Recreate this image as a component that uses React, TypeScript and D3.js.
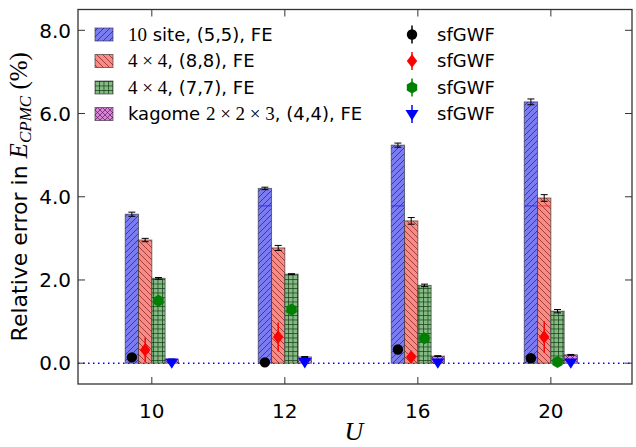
import React from "react";
import * as d3 from "d3";

const categories = ["10", "12", "16", "20"];
const seriesNames = ["10 site, (5,5), FE", "4x4, (8,8), FE", "4x4, (7,7), FE", "kagome 2x2x3, (4,4), FE"];
const barBlue = [3.58, 4.2, 5.24, 6.28];
const barBlueErr = [0.05, 0.03, 0.05, 0.07];
const barRed = [2.96, 2.77, 3.42, 3.97];
const barRedErr = [0.04, 0.06, 0.08, 0.08];
const barGreen = [2.04, 2.14, 1.87, 1.25];
const barGreenErr = [0.02, 0.01, 0.03, 0.04];
const barPurple = [0.09, 0.15, 0.17, 0.2];
const barPurpleErr = [0.01, 0.01, 0.01, 0.01];
const ptBlack = [0.14, 0.02, 0.33, 0.12];
const ptBlackErr = [0.02, 0.02, 0.03, 0.03];
const ptRed = [0.32, 0.63, 0.15, 0.63];
const ptRedErr = [0.3, 0.35, 0.12, 0.38];
const ptGreen = [1.5, 1.29, 0.6, 0.03];
const ptGreenErr = [0.05, 0.05, 0.05, 0.05];
const ptBlue = [0.02, 0.03, 0.02, 0.02];
const ptBlueErr = [0.02, 0.02, 0.02, 0.02];
const yTicks = [0, 2, 4, 6, 8];
const artifactLevel = 3.78;

const W = 636, H = 447;
const left = 78, right = 632, top = 9.5, bottom = 384;

export default function App() {
  const x = d3.scaleLinear().domain([-0.555, 3.61]).range([left, right]);
  const y = d3.scaleLinear().domain([-0.5, 8.5]).range([bottom, top]);
  const barW = x(0.1) - x(0);
  const serif = "'Liberation Serif', 'DejaVu Serif', serif";
  const sans = "'DejaVu Sans', sans-serif";

  const bars = [
    { vals: barBlue, errs: barBlueErr, off: -0.15, fill: "#7b7bf2", pat: "hBlue", art: "#3030e0" },
    { vals: barRed, errs: barRedErr, off: -0.05, fill: "#fb8a84", pat: "hRed", art: "#ff3030" },
    { vals: barGreen, errs: barGreenErr, off: 0.05, fill: "#86bb86", pat: "hGreen", art: "#208020" },
    { vals: barPurple, errs: barPurpleErr, off: 0.15, fill: "#d883d8", pat: "hPurple", art: "#a020a0" },
  ];
  const pts = [
    { vals: ptBlack, errs: ptBlackErr, off: -0.15, color: "#000000", shape: "circle" },
    { vals: ptRed, errs: ptRedErr, off: -0.05, color: "#ff0000", shape: "diamond" },
    { vals: ptGreen, errs: ptGreenErr, off: 0.05, color: "#008000", shape: "hexagon" },
    { vals: ptBlue, errs: ptBlueErr, off: 0.15, color: "#0000ff", shape: "tri" },
  ];

  const marker = (shape: string, cx: number, cy: number, color: string, key: string) => {
    if (shape === "circle") return <circle key={key} cx={cx} cy={cy} r={5.2} fill={color} />;
    if (shape === "diamond") {
      const s = 6.8, s2 = 5.2;
      return <path key={key} d={`M${cx},${cy - s}L${cx + s2},${cy}L${cx},${cy + s}L${cx - s2},${cy}Z`} fill={color} />;
    }
    if (shape === "hexagon") {
      const r = 6;
      const p = d3.range(6).map((i) => {
        const a = (Math.PI / 3) * i + Math.PI / 2;
        return [cx + r * Math.cos(a), cy + r * Math.sin(a)];
      });
      return <path key={key} d={"M" + p.map((q) => q.join(",")).join("L") + "Z"} fill={color} />;
    }
    const s = 6.5;
    return <path key={key} d={`M${cx - s},${cy - s * 0.6}L${cx + s},${cy - s * 0.6}L${cx},${cy + s * 1.0}Z`} fill={color} />;
  };

  const legendRows = [0, 1, 2, 3];
  const legY = (i: number) => 34.5 + i * 26.5;
  const mfs = 19;
  const legendText = [
    <><tspan fontFamily={serif} fontSize={mfs}>10</tspan><tspan> site, (5,5), FE</tspan></>,
    <><tspan fontFamily={serif} fontSize={mfs}>4 × 4</tspan><tspan>, (8,8), FE</tspan></>,
    <><tspan fontFamily={serif} fontSize={mfs}>4 × 4</tspan><tspan>, (7,7), FE</tspan></>,
    <><tspan>kagome </tspan><tspan fontFamily={serif} fontSize={mfs}>2 × 2 × 3</tspan><tspan>, (4,4), FE</tspan></>,
  ];

  return (
    <svg width={W} height={H} style={{ position: "absolute", left: 0, top: 0, background: "#fff" }}>
      <defs>
        <pattern id="hBlue" patternUnits="userSpaceOnUse" width={6} height={6}>
          <rect width={6} height={6} fill="#7b7bf2" />
          <path d="M-1,1L1,-1M0,6L6,0M5,7L7,5" stroke="rgba(30,30,90,0.75)" strokeWidth={0.9} />
        </pattern>
        <pattern id="hRed" patternUnits="userSpaceOnUse" width={6} height={6}>
          <rect width={6} height={6} fill="#fb8a84" />
          <path d="M-1,5L1,7M0,0L6,6M5,-1L7,1" stroke="rgba(110,30,30,0.75)" strokeWidth={0.9} />
        </pattern>
        <pattern id="hGreen" patternUnits="userSpaceOnUse" width={4.5} height={4.5}>
          <rect width={4.5} height={4.5} fill="#86bb86" />
          <path d="M0,0.5H4.5M0.5,0V4.5" stroke="rgba(20,60,20,0.8)" strokeWidth={0.9} />
        </pattern>
        <pattern id="hPurple" patternUnits="userSpaceOnUse" width={5} height={5}>
          <rect width={5} height={5} fill="#d883d8" />
          <path d="M0,0L5,5M5,0L0,5" stroke="rgba(80,20,80,0.8)" strokeWidth={0.8} />
        </pattern>
        <clipPath id="plotClip">
          <rect x={left} y={top} width={right - left} height={bottom - top} />
        </clipPath>
      </defs>

      <g clipPath="url(#plotClip)">
        <line x1={left} x2={right} y1={y(0)} y2={y(0)} stroke="#0000ff" strokeWidth={1.5} strokeDasharray="1.5,3.5" />
        {bars.map((b, bi) =>
          categories.map((_, ci) => {
            const cx = x(ci + b.off);
            const y0 = y(0), y1 = y(b.vals[ci]);
            return (
              <g key={`b${bi}-${ci}`}>
                <rect x={cx - barW / 2} y={y1} width={barW} height={y0 - y1} fill={`url(#${b.pat})`} stroke="rgba(40,40,40,0.6)" strokeWidth={1} />
                {b.vals[ci] > artifactLevel && (
                  <line x1={cx - barW / 2} x2={cx + barW / 2} y1={y(artifactLevel)} y2={y(artifactLevel)} stroke={b.art} strokeWidth={1} />
                )}
                <line x1={cx} x2={cx} y1={y(b.vals[ci] + b.errs[ci])} y2={y(b.vals[ci] - b.errs[ci])} stroke="#000" strokeWidth={1} />
                <line x1={cx - 3.5} x2={cx + 3.5} y1={y(b.vals[ci] + b.errs[ci])} y2={y(b.vals[ci] + b.errs[ci])} stroke="#000" strokeWidth={1} />
                <line x1={cx - 3.5} x2={cx + 3.5} y1={y(b.vals[ci] - b.errs[ci])} y2={y(b.vals[ci] - b.errs[ci])} stroke="#000" strokeWidth={1} />
              </g>
            );
          })
        )}
        {pts.map((p, pi) =>
          categories.map((_, ci) => {
            const cx = x(ci + p.off);
            return (
              <g key={`p${pi}-${ci}`}>
                <line x1={cx} x2={cx} y1={y(p.vals[ci] + p.errs[ci])} y2={y(p.vals[ci] - p.errs[ci])} stroke={p.color} strokeWidth={1.5} />
                {marker(p.shape, cx, y(p.vals[ci]), p.color, "m")}
              </g>
            );
          })
        )}
      </g>

      <rect x={left} y={top} width={right - left} height={bottom - top} fill="none" stroke="#333" strokeWidth={1.3} />

      {yTicks.map((t) => (
        <g key={`y${t}`}>
          <line x1={left} x2={left + 7} y1={y(t)} y2={y(t)} stroke="#333" strokeWidth={1} />
          <line x1={right} x2={right - 7} y1={y(t)} y2={y(t)} stroke="#333" strokeWidth={1} />
          <text x={left - 7} y={y(t)} dy="0.36em" textAnchor="end" fontFamily={sans} fontSize={20}>{t.toFixed(1)}</text>
        </g>
      ))}
      {categories.map((c, ci) => (
        <g key={`x${c}`}>
          <line x1={x(ci)} x2={x(ci)} y1={bottom} y2={bottom - 7} stroke="#333" strokeWidth={1} />
          <line x1={x(ci)} x2={x(ci)} y1={top} y2={top + 7} stroke="#333" strokeWidth={1} />
          <text x={x(ci)} y={bottom + 34} textAnchor="middle" fontFamily={sans} fontSize={20}>{c}</text>
        </g>
      ))}

      <text x={(left + right) / 2 - 1} y={440} textAnchor="middle" fontFamily={serif} fontStyle="italic" fontSize={26}>U</text>
      <text transform={`translate(27,${(top + bottom) / 2}) rotate(-90)`} textAnchor="middle" fontFamily={sans} fontSize={22}>
        <tspan>Relative error in </tspan>
        <tspan fontFamily={serif} fontStyle="italic" fontSize={25}>E</tspan>
        <tspan fontFamily={serif} fontStyle="italic" fontSize={17} dy={4}>CPMC</tspan>
        <tspan fontFamily={serif} fontSize={25} dy={-4}> (%)</tspan>
      </text>

      {legendRows.map((i) => (
        <g key={`lg${i}`}>
          <rect x={95} y={legY(i) - 6.5} width={18} height={13} fill={`url(#${bars[i].pat})`} stroke="rgba(40,40,40,0.6)" strokeWidth={1} />
          <text x={128} y={legY(i)} dy="0.36em" fontFamily={sans} fontSize={18}>{legendText[i]}</text>
        </g>
      ))}
      {legendRows.map((i) => (
        <g key={`lr${i}`}>
          <line x1={412} x2={412} y1={legY(i) - 9} y2={legY(i) + 9} stroke={pts[i].color} strokeWidth={1.5} />
          {marker(pts[i].shape, 412, legY(i), pts[i].color, "lm")}
          <text x={437} y={legY(i)} dy="0.36em" fontFamily={sans} fontSize={18}>sfGWF</text>
        </g>
      ))}
    </svg>
  );
}
